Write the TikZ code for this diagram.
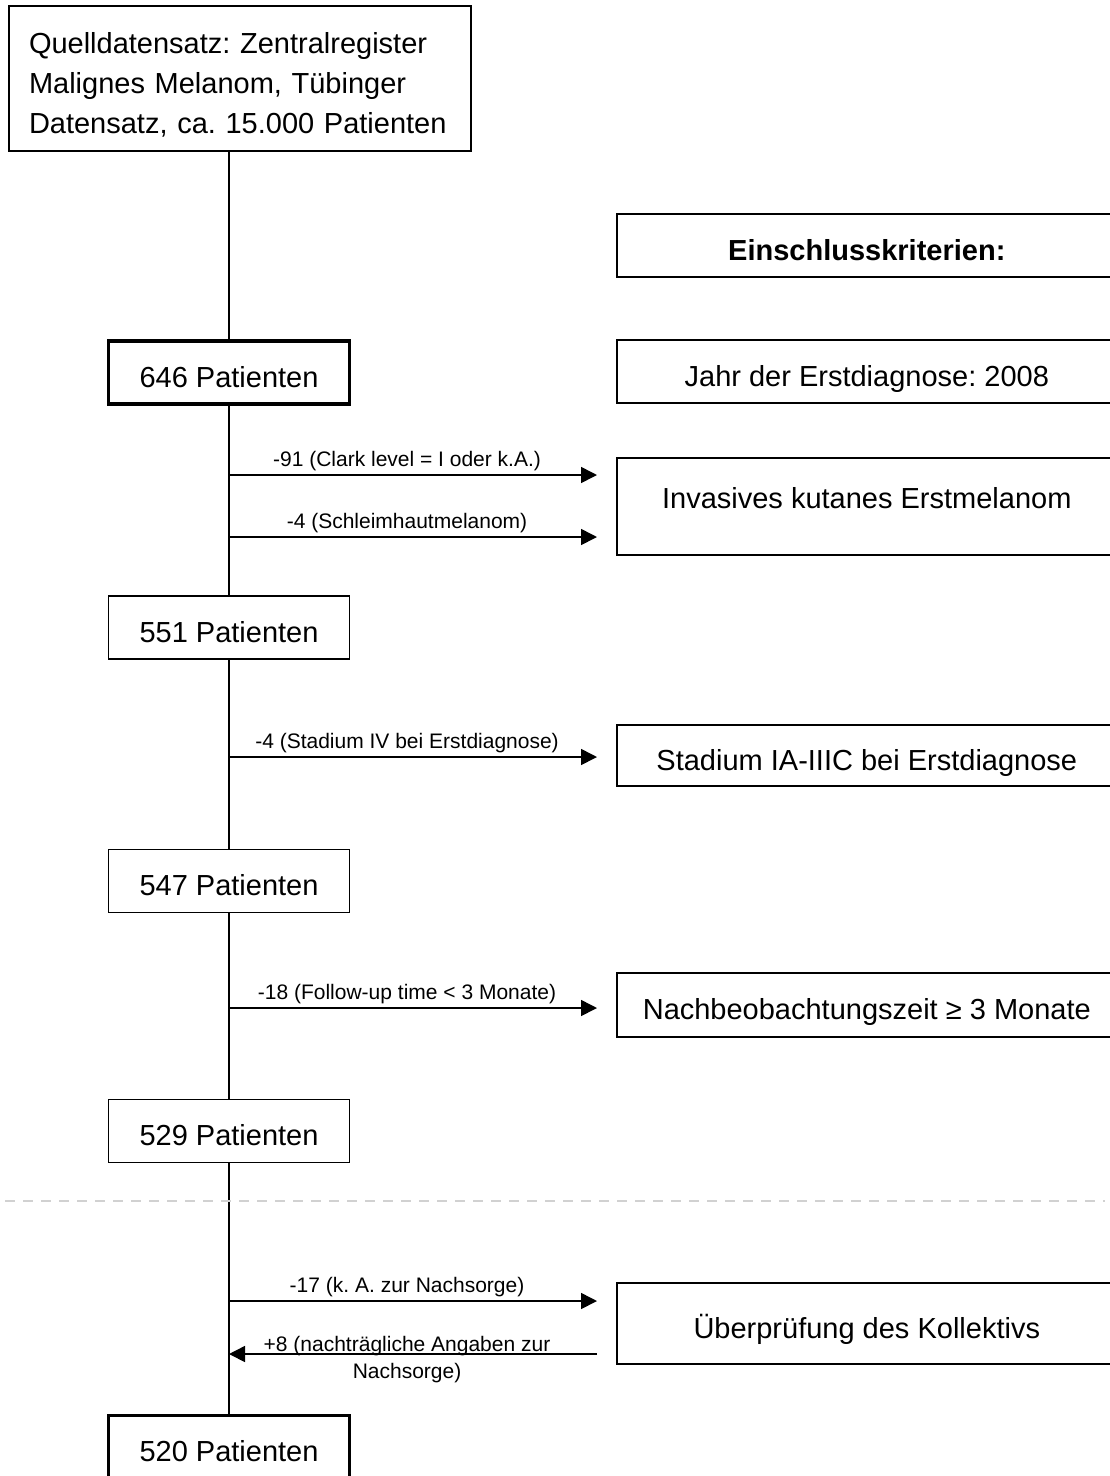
\documentclass[tikz,border=0pt]{standalone}
\usepackage{fontspec}
\setmainfont{Liberation Sans}
\frenchspacing
\usetikzlibrary{arrows.meta}
\tikzstyle{count}=[draw,line width=1.6pt,minimum width=241pt,minimum height=63pt,inner sep=0pt,font=\fontsize{29}{40}\selectfont,text height=29pt,text depth=0pt]
\tikzstyle{criterion}=[draw,line width=1.6pt,anchor=west,minimum width=500pt,inner sep=0pt,font=\fontsize{29}{40}\selectfont,text height=29pt]
\tikzstyle{edge}=[draw,line width=1.6pt,-{Triangle[length=16pt,width=16pt]}]
\tikzstyle{weight}=[font=\fontsize{21}{27}\selectfont,align=center]
\begin{document}
\begin{tikzpicture}[x=1pt,y=-1pt]
  \clip (0,0) rectangle (1110,1476);
    % Source data set
    \node[draw,line width=1.6pt,align=left,text width=422pt,inner xsep=20pt,minimum height=145pt,
          font=\fontsize{29}{40}\selectfont] (src) at (240,78.5)
          {\rule{0pt}{33pt}Quelldatensatz: Zentralregister\\Malignes Melanom, Tübinger\\Datensatz, ca. 15.000 Patienten};
    % Patient counts along the trunk
    \foreach \pos/\name/\lw in {{(229,372.5)/646/3.4pt},{(229,627.5)/551/1.6pt},{(229,881)/547/1.6pt},
                                {(229,1131)/529/1.6pt},{(229,1447)/520/3.4pt}}
        \node[count,line width=\lw] (p\name) at \pos {\name{} Patienten};
    \draw[line width=1.6pt] (src.south -| p646) -- (p646) -- (p551) -- (p547) -- (p529) -- (p520);
    % Inclusion criteria on the right
    \foreach \y/\h/\d/\name/\txt in {245.5/63/0/head/{\textbf{Einschlusskriterien:}},
                                     371.5/63/0/year/{Jahr der Erstdiagnose: 2008},
                                     506.5/97/25/inv/{Invasives kutanes Erstmelanom},
                                     755.5/61/0/stage/{Stadium IA-IIIC bei Erstdiagnose},
                                     1005/64/0/fu/{Nachbeobachtungszeit ≥ 3 Monate},
                                     1323.5/81/0/check/{Überprüfung des Kollektivs}}
        \node[criterion,minimum height=\h pt,text depth=\d pt] (\name) at (616,\y) {\txt};
    % Excluded patients
    \foreach \y/\target/\weight in {475/inv/{-91 (Clark level = I oder k.A.)},
                                    537/inv/{-4 (Schleimhautmelanom)},
                                    757/stage/{-4 (Stadium IV bei Erstdiagnose)},
                                    1008/fu/{-18 (Follow-up time < 3 Monate)},
                                    1301/check/{-17 (k. A. zur Nachsorge)}}
    {
        \coordinate (t\y) at (229,\y);
        \path[edge,shorten >=19pt] (t\y) -- node[weight,above,pos=0.46] {\weight} (t\y -| \target.west);
    }
    % Patients added back
    \coordinate (back) at (229,1354);
    \path[edge,shorten <=19pt] (back -| check.west) -- node[weight,pos=0.54,yshift=-5.5pt]
        {+8 (nachträgliche Angaben zur\\Nachsorge)} (back);
    % Separator
    \draw[black!18,line width=1.6pt,dash pattern=on 10pt off 8pt] (5,1201) -- (1105,1201);
\end{tikzpicture}
\end{document}
